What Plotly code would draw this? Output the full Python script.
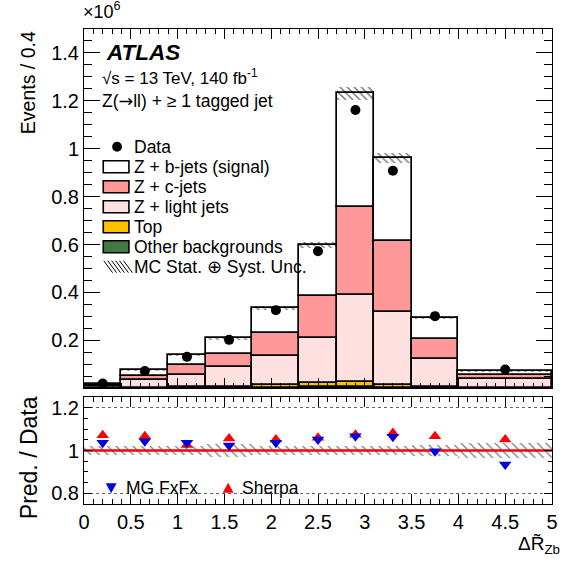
import numpy as np
import plotly.graph_objects as go

# Binning in Delta R~_Zb and stacked predictions (events / 0.4, in units of 10^6)
bin_edges = [0.0, 0.4, 0.9, 1.3, 1.8, 2.3, 2.7, 3.1, 3.5, 4.0, 5.0]
data_events = [0.020, 0.072, 0.131, 0.202, 0.326, 0.572, 1.162, 0.908, 0.301, 0.078]
zb_signal = [0.007, 0.025, 0.041, 0.063, 0.105, 0.214, 0.474, 0.344, 0.090, 0.018]
zc_jets = [0.004, 0.017, 0.039, 0.056, 0.097, 0.174, 0.369, 0.296, 0.084, 0.014]
zlight_jets = [0.006, 0.031, 0.053, 0.083, 0.121, 0.190, 0.362, 0.306, 0.116, 0.038]
top_bkg = [0.001, 0.001, 0.002, 0.004, 0.010, 0.016, 0.022, 0.011, 0.003, 0.001]
other_bkg = [0.001, 0.001, 0.002, 0.002, 0.003, 0.004, 0.005, 0.003, 0.002, 0.001]
rel_unc = [0.022, 0.022, 0.020, 0.030, 0.022, 0.020, 0.022, 0.022, 0.025, 0.035]

# Prediction / data ratios
ratio_mg = [1.036, 1.043, 1.036, 1.023, 1.036, 1.051, 1.067, 1.064, 0.997, 0.935]
ratio_sherpa = [1.071, 1.067, 1.026, 1.056, 1.051, 1.059, 1.074, 1.082, 1.067, 1.051]

edges = np.array(bin_edges)
centers = 0.5 * (edges[:-1] + edges[1:])
widths = np.diff(edges)

FONT = "Liberation Sans"
# stacking order, bottom to top
components = [
    ("Other backgrounds", other_bkg, "#3f7a45"),
    ("Top", top_bkg, "#ffc000"),
    ("Z + light jets", zlight_jets, "#ffe0e0"),
    ("Z + c-jets", zc_jets, "#ff9999"),
    ("Z + b-jets (signal)", zb_signal, "#ffffff"),
]
UNC_LABEL = "MC Stat. \u2295 Syst. Unc."
MG_COLOR, SHERPA_COLOR = "#0000dd", "#ff0000"

fig = go.Figure()

base = np.zeros(len(centers))
for name, vals, color in components:
    vals = np.array(vals)
    fig.add_trace(go.Bar(
        x=centers, y=vals, base=base, width=widths, name=name, showlegend=False,
        marker=dict(color=color, line=dict(color="black", width=1.7)),
        xaxis="x", yaxis="y", hoverinfo="skip",
    ))
    base = base + vals
total = base

unc = np.array(rel_unc)
hatch_main = dict(shape="\\", fgcolor="black", bgcolor="rgba(0,0,0,0)", size=5, solidity=0.3)
hatch_ratio = dict(shape="\\", fgcolor="black", bgcolor="rgba(0,0,0,0)", size=6, solidity=0.22)
fig.add_trace(go.Bar(
    x=centers, y=2 * total * unc, base=total * (1 - unc), width=widths,
    name=UNC_LABEL, showlegend=False,
    marker=dict(color="rgba(0,0,0,0)", line=dict(width=0), pattern=hatch_main),
    xaxis="x", yaxis="y", hoverinfo="skip",
))

fig.add_trace(go.Scatter(
    x=centers, y=data_events, mode="markers", name="Data", showlegend=False,
    marker=dict(color="black", size=10, symbol="circle"),
    xaxis="x", yaxis="y",
))

# Ratio panel
fig.add_trace(go.Bar(
    x=centers, y=2 * unc, base=1 - unc, width=widths, showlegend=False,
    marker=dict(color="rgba(0,0,0,0)", line=dict(width=0), pattern=hatch_ratio),
    xaxis="x2", yaxis="y2", hoverinfo="skip",
))
fig.add_trace(go.Scatter(
    x=[edges[0], edges[-1]], y=[1, 1], mode="lines", showlegend=False,
    line=dict(color="#ff0000", width=2.5), xaxis="x2", yaxis="y2",
))
fig.add_trace(go.Scatter(
    x=centers, y=ratio_sherpa, mode="markers", name="Sherpa", showlegend=False,
    marker=dict(color=SHERPA_COLOR, size=11, symbol="triangle-up"),
    xaxis="x2", yaxis="y2",
))
fig.add_trace(go.Scatter(
    x=centers, y=ratio_mg, mode="markers", name="MG FxFx", showlegend=False,
    marker=dict(color=MG_COLOR, size=11, symbol="triangle-down"),
    xaxis="x2", yaxis="y2",
))

L, R, T, B = 84, 12, 29, 72
W, H = 570, 576
ph = H - T - B
pw = W - L - R


def py(pix):
    return (H - B - pix) / ph


def px(pix):
    return (pix - L) / pw


axis_common = dict(
    showline=True, linecolor="black", linewidth=1, mirror="allticks",
    ticks="inside", tickcolor="black", showgrid=False, zeroline=False,
    tickfont=dict(family=FONT, size=20, color="black"),
)

fig.update_layout(
    width=W, height=H,
    margin=dict(l=L, r=R, t=T, b=B),
    paper_bgcolor="white", plot_bgcolor="white",
    barmode="overlay", bargap=0,
    font=dict(family=FONT, color="black"),
    xaxis=dict(domain=[0, 1], range=[0, 5], dtick=0.5, tick0=0, ticklen=10,
               minor=dict(dtick=0.1, ticklen=5, ticks="inside", tickcolor="black"),
               showticklabels=False, anchor="y", **axis_common),
    yaxis=dict(domain=[py(388), 1], range=[0.001, 1.5], dtick=0.2, tick0=0, ticklen=16,
               minor=dict(dtick=0.05, ticklen=8, ticks="inside", tickcolor="black"),
               anchor="x", **axis_common),
    xaxis2=dict(domain=[0, 1], range=[0, 5], dtick=0.5, tick0=0, ticklen=10,
                minor=dict(dtick=0.1, ticklen=5, ticks="inside", tickcolor="black"),
                anchor="y2", **axis_common),
    yaxis2=dict(domain=[0, py(397)], range=[0.75, 1.25], dtick=0.2, tick0=0.8, ticklen=8,
                minor=dict(dtick=0.05, ticklen=4, ticks="inside", tickcolor="black"),
                anchor="x2", **{**axis_common, "showgrid": True},
                gridcolor="#666666", griddash="dot", gridwidth=1),
    showlegend=False,
)

shapes = []
annotations = []


def tri_path(xc, yc, up, half=5.5):
    # triangle marker in paper coordinates, pixel sizes
    if up:
        pts = [(xc - half, yc + 4.8), (xc + half, yc + 4.8), (xc, yc - 5.2)]
    else:
        pts = [(xc - half, yc - 4.8), (xc + half, yc - 4.8), (xc, yc + 5.2)]
    return "M " + " L ".join(f"{px(a):.5f},{py(b):.5f}" for a, b in pts) + " Z"


# Legend box for the main panel
row_y = [146.7, 166.7, 186.7, 206.7, 226.7, 246.7, 266.7]
box_x0, box_x1, text_x = 103.5, 129.5, 133.0
legend_rows = [("Data", None)] + [(n, c) for n, _, c in reversed(components)] + [(UNC_LABEL, "hatch")]
for (label, color), yc in zip(legend_rows, row_y):
    if color is None:
        shapes.append(dict(type="circle", xref="paper", yref="paper",
                           x0=px(112.5), x1=px(122.5), y0=py(yc + 5), y1=py(yc - 5),
                           fillcolor="black", line=dict(width=0)))
    elif color == "hatch":
        for k in range(6):
            x0 = 104 + 4 * k
            shapes.append(dict(type="line", xref="paper", yref="paper",
                               x0=px(x0), x1=px(x0 + 9), y0=py(yc - 6), y1=py(yc + 6),
                               line=dict(color="black", width=1)))
    else:
        shapes.append(dict(type="rect", xref="paper", yref="paper",
                           x0=px(box_x0), x1=px(box_x1), y0=py(yc + 6), y1=py(yc - 6),
                           fillcolor=color, line=dict(color="black", width=1.6)))
    annotations.append(dict(text=label, x=px(text_x), y=py(yc), xanchor="left",
                            yanchor="middle", font=dict(size=17.5)))

# Legend for the ratio panel
ratio_legend = [("MG FxFx", MG_COLOR, False, 111.5, 125.0),
                ("Sherpa", SHERPA_COLOR, True, 230.0, 241.5)]
for label, color, up, xm, xt in ratio_legend:
    shapes.append(dict(type="path", xref="paper", yref="paper", path=tri_path(xm, 488, up),
                       fillcolor=color, line=dict(width=0)))
    annotations.append(dict(text=label, x=px(xt), y=py(488), xanchor="left",
                            yanchor="middle", font=dict(size=17.5)))

arrow = '<span style="font-family:DejaVu Sans">\u2192</span>'
annotations += [
    dict(text="\u00d710<sup>6</sup>", x=px(81), y=py(24), xanchor="left", yanchor="bottom",
         font=dict(size=18)),
    dict(text="<b><i>ATLAS</i></b>", x=px(104), y=py(53), xanchor="left", yanchor="middle",
         font=dict(size=22.5)),
    dict(text="\u221as = 13 TeV, 140 fb<sup>-1</sup>", x=px(100), y=py(77), xanchor="left",
         yanchor="middle", font=dict(size=17)),
    dict(text=f"Z({arrow}ll) + \u2265 1 tagged jet", x=px(100), y=py(101), xanchor="left",
         yanchor="middle", font=dict(size=17.5)),
    dict(text="Events / 0.4", textangle=-90, x=px(27), y=1, xanchor="center", yanchor="top",
         font=dict(size=19.5)),
    dict(text="Pred. / Data", textangle=-90, x=px(28), y=py(394), xanchor="center",
         yanchor="top", font=dict(size=23)),
    dict(text="\u0394R\u0303<sub>Zb</sub>", x=px(568), y=py(545), xanchor="right",
         yanchor="middle", font=dict(size=19)),
]
for a in annotations:
    a.update(xref="paper", yref="paper", showarrow=False)
    a["font"] = dict(family=FONT, color="black", **a["font"])
fig.update_layout(annotations=annotations, shapes=shapes)

fig.write_html("out.html")
